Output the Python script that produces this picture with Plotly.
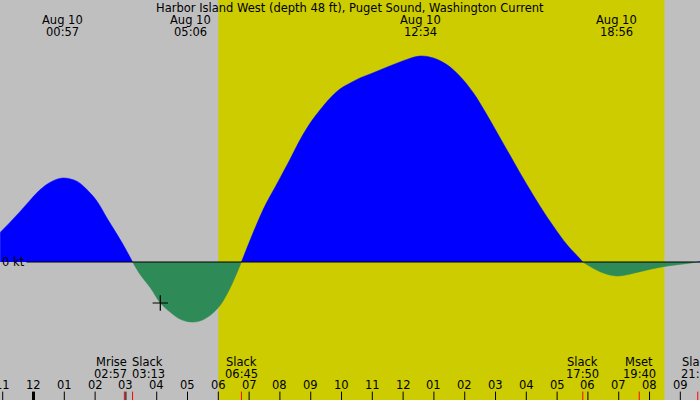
import plotly.graph_objects as go
import pandas as pd

# current curve (kt), Aug 9 late evening -> Aug 10 night
curve_times = ["2024-08-09 22:55", "2024-08-09 23:14", "2024-08-09 23:34", "2024-08-09 23:53",
               "2024-08-10 00:13", "2024-08-10 00:32", "2024-08-10 00:57", "2024-08-10 01:25",
               "2024-08-10 01:44", "2024-08-10 02:04", "2024-08-10 02:23", "2024-08-10 02:43",
               "2024-08-10 03:02", "2024-08-10 03:13",
               "2024-08-10 03:27", "2024-08-10 03:48", "2024-08-10 04:07", "2024-08-10 04:26",
               "2024-08-10 04:45", "2024-08-10 05:06", "2024-08-10 05:24", "2024-08-10 05:45",
               "2024-08-10 06:04", "2024-08-10 06:23", "2024-08-10 06:45",
               "2024-08-10 07:27", "2024-08-10 07:54", "2024-08-10 08:20", "2024-08-10 08:39",
               "2024-08-10 08:59", "2024-08-10 09:18", "2024-08-10 09:38", "2024-08-10 09:57",
               "2024-08-10 10:17", "2024-08-10 10:36", "2024-08-10 10:56", "2024-08-10 11:15",
               "2024-08-10 11:34", "2024-08-10 11:54", "2024-08-10 12:13", "2024-08-10 12:34",
               "2024-08-10 12:59", "2024-08-10 13:25", "2024-08-10 13:51", "2024-08-10 14:17",
               "2024-08-10 14:43", "2024-08-10 15:09", "2024-08-10 15:35", "2024-08-10 16:01",
               "2024-08-10 16:27", "2024-08-10 16:53", "2024-08-10 17:19", "2024-08-10 17:45",
               "2024-08-10 17:50",
               "2024-08-10 18:25", "2024-08-10 18:56", "2024-08-10 19:29", "2024-08-10 20:02",
               "2024-08-10 20:35", "2024-08-10 21:06", "2024-08-10 21:34", "2024-08-10 22:00"]
curve_kt = [0.148, 0.198, 0.253, 0.308,
            0.362, 0.398, 0.42, 0.403,
            0.362, 0.303, 0.22, 0.137,
            0.053, 0.0,
            -0.06, -0.13, -0.205, -0.25,
            -0.285, -0.30, -0.295, -0.265,
            -0.215, -0.13, 0.0,
            0.26, 0.39, 0.515, 0.61,
            0.695, 0.76, 0.82, 0.865,
            0.895, 0.92, 0.94, 0.96,
            0.98, 1.0, 1.018, 1.03,
            1.02, 0.987, 0.928, 0.845,
            0.737, 0.62, 0.503, 0.387,
            0.278, 0.178, 0.087, 0.015,
            0.0,
            -0.05, -0.07, -0.056, -0.036,
            -0.02, -0.01, 0.0, 0.01]

# max / min current labels along the top
peak_times = ["2024-08-10 00:57", "2024-08-10 05:06", "2024-08-10 12:34", "2024-08-10 18:56"]
peak_dates = ["Aug 10", "Aug 10", "Aug 10", "Aug 10"]
peak_clock = ["00:57", "05:06", "12:34", "18:56"]

# events along the bottom
event_times = ["2024-08-10 02:57", "2024-08-10 03:13", "2024-08-10 06:45",
               "2024-08-10 17:50", "2024-08-10 19:40", "2024-08-10 21:34"]
event_names = ["Mrise", "Slack", "Slack", "Slack", "Mset", "Slack"]
event_clock = ["02:57", "03:13", "06:45", "17:50", "19:40", "21:34"]

hour_ticks = pd.date_range("2024-08-09 23:00", "2024-08-10 21:00", freq="h")
hour_labels = ["11", "12", "01", "02", "03", "04", "05", "06", "07", "08", "09", "10", "11",
               "12", "01", "02", "03", "04", "05", "06", "07", "08", "09"]

sunrise = "2024-08-10 06:00"
sunset = "2024-08-10 20:29"
now_time = "2024-08-10 04:07"
now_kt = -0.205

title = "Harbor Island West (depth 48 ft), Puget Sound, Washington Current"

GRAY = "#BFBFBF"
DAY = "#CCCC00"
FLOOD = "#0000FF"
EBB = "#2E8B57"
FONT = "DejaVu Sans"
FS = 11.5

t = pd.to_datetime(curve_times)

fig = go.Figure()

# split the curve into lobes at the slack points and fill each to zero
lobes = []
cur = [0]
for i in range(1, len(curve_kt)):
    cur.append(i)
    if curve_kt[i] == 0 and i != len(curve_kt) - 1:
        lobes.append(cur)
        cur = [i]
lobes.append(cur)

for idx in lobes:
    vals = [curve_kt[i] for i in idx]
    color = FLOOD if sum(vals) > 0 else EBB
    fig.add_trace(go.Scatter(
        x=[t[i] for i in idx], y=vals, mode="lines",
        line=dict(color=color, width=0.5, shape="spline", smoothing=1.0),
        fill="tozeroy", fillcolor=color, hoverinfo="skip"))

fig.add_trace(go.Scatter(
    x=[pd.to_datetime(now_time)], y=[now_kt], mode="markers",
    marker=dict(symbol="cross-thin", size=11, line=dict(color="black", width=1.2)),
    hoverinfo="skip"))

shapes = [dict(type="rect", xref="x", yref="paper", x0=sunrise, x1=sunset, y0=0, y1=1,
               fillcolor=DAY, line=dict(width=0), layer="below"),
          dict(type="line", xref="x", yref="y", x0="2024-08-09 23:46", x1="2024-08-10 22:30",
               y0=0, y1=0, line=dict(color="black", width=1))]

for h in hour_ticks:
    w = 3 if h.hour == 0 else 1
    shapes.append(dict(type="line", xref="x", yref="paper", x0=h, x1=h, y0=0, y1=0.021,
                       line=dict(color="black", width=w)))
for et in event_times:
    shapes.append(dict(type="line", xref="x", yref="paper", x0=et, x1=et, y0=0, y1=0.021,
                       line=dict(color="red", width=1)))


def label(text, x, ypix, xref="x", anchor="center", shift=0):
    return dict(text=text, x=x, y=1 - ypix / 400, xref=xref, yref="paper", showarrow=False,
                font=dict(size=FS, color="black", family=FONT), borderpad=0,
                xanchor=anchor, xshift=shift, yanchor="middle")


annotations = [label(title, 0.5, 8, xref="paper"),
               dict(text="0 kt", x=0, y=0, xref="paper", yref="y", xshift=1, borderpad=0,
                    showarrow=False, font=dict(size=FS, color="black", family=FONT),
                    xanchor="left", yanchor="middle")]

for pt, pd_, pc in zip(peak_times, peak_dates, peak_clock):
    annotations.append(label(pd_, pt, 20))
    annotations.append(label(pc, pt, 32))

for i, (et, en, ec) in enumerate(zip(event_times, event_names, event_clock)):
    anchor, shift = "center", 0
    if i == 0:
        anchor, shift = "right", 4
    elif i == 1:
        anchor, shift = "left", -2
    annotations.append(label(en, et, 362, anchor=anchor, shift=shift))
    annotations.append(label(ec, et, 374, anchor=anchor, shift=shift))

for h, lab in zip(hour_ticks, hour_labels):
    annotations.append(label(lab, h, 385))

fig.update_layout(
    width=700, height=400,
    margin=dict(l=0, r=0, t=0, b=0),
    paper_bgcolor=GRAY, plot_bgcolor=GRAY,
    showlegend=False,
    xaxis=dict(range=["2024-08-09 22:54:43", "2024-08-10 21:38:20"], visible=False, fixedrange=True),
    yaxis=dict(range=[-0.69, 1.31], visible=False, fixedrange=True),
    shapes=shapes, annotations=annotations,
)

# drop the page's default body margin so the chart fills the window
fig.write_html("out.html", config={"displayModeBar": False},
               post_script="document.body.style.margin='0';document.body.style.overflow='hidden';")
